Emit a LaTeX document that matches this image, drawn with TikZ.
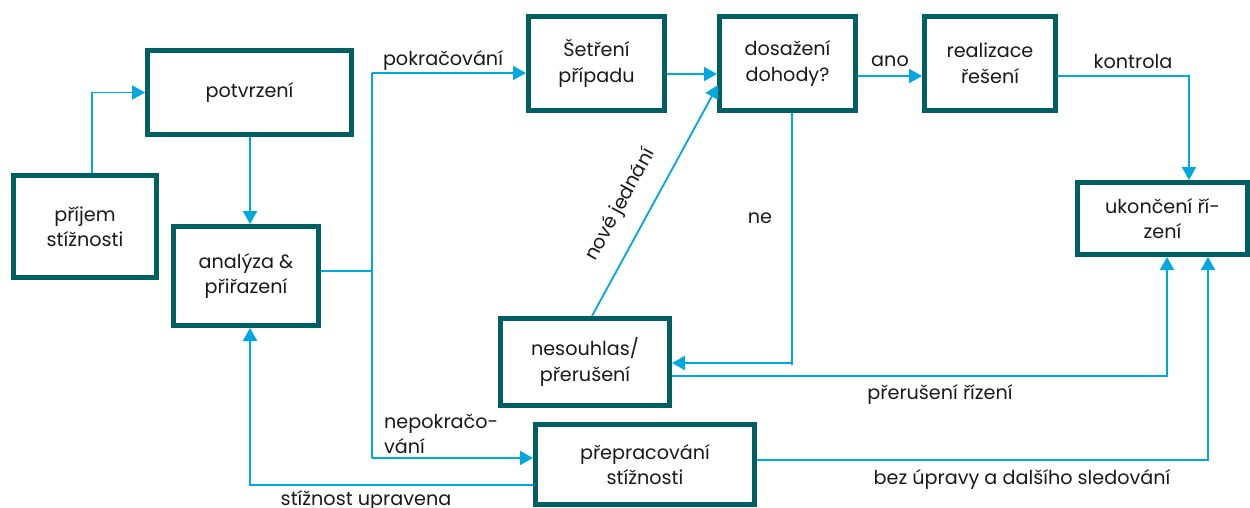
\documentclass[tikz,border=0pt]{standalone}
\usepackage{fontspec}
\setmainfont{Poppins}
\usetikzlibrary{arrows.meta}
\definecolor{boxc}{HTML}{005F63}
\definecolor{linec}{HTML}{00A8E0}
\definecolor{txtc}{HTML}{1A1A1A}
\begin{document}
\begin{tikzpicture}[x=1pt,y=-1pt,
  box/.style={draw=boxc,line width=5pt,inner sep=0pt,align=center,text=txtc,font=\fontsize{19.2}{25.5}\selectfont},
  conn/.style={draw=linec,line width=1.8pt},
  arr/.style={conn,-{Triangle[length=13pt,width=14pt]}},
  lbl/.style={text=txtc,inner sep=0pt,font=\fontsize{19.2}{25}\selectfont}]
\clip (0,0) rectangle (1250,508);
\useasboundingbox (0,0) rectangle (1250,508);
\fill[white] (0,0) rectangle (1250,508);
% boxes
\node[box,minimum width=143pt,minimum height=102pt] (pri) at (85,226.5) {příjem\\stížnosti};
\node[box,minimum width=204pt,minimum height=84pt] (pot) at (249.5,92.5) {potvrzení};
\node[box,minimum width=145pt,minimum height=99pt] (ana) at (246,276) {analýza \&\\přiřazení};
\node[box,minimum width=136pt,minimum height=94pt] (set) at (596.5,63.5) {Šetření\\případu};
\node[box,minimum width=136pt,minimum height=94pt] (dos) at (787.5,63.5) {dosažení\\dohody?};
\node[box,minimum width=131pt,minimum height=94pt] (rea) at (990,63.5) {realizace\\řešení};
\node[box,minimum width=170pt,minimum height=72pt] (uko) at (1162.5,218.5) {ukončení ří-\\zení};
\node[box,minimum width=169pt,minimum height=87pt] (nes) at (585,362) {nesouhlas/\\přerušení};
\node[box,minimum width=219pt,minimum height=80pt] (pre) at (645,464.5) {přepracování\\stížnosti};
% branch coordinates
\coordinate (bt) at (372,73);
\coordinate (bb) at (372,458);
% connectors
\draw[arr] ([xshift=7pt]pri.north) |- (pot.west);
\draw[arr] ([xshift=0.5pt]pot.south) -- ([xshift=0.5pt]pot.south |- ana.north);
\draw[conn] ([yshift=5pt]ana.east) -- (372,271);
\draw[conn] (bt) -- (bb);
\draw[arr] (bt) -- (bt -| set.west);
\draw[arr] (bb) -- (bb -| pre.west);
\draw[arr] ([yshift=-20.5pt]pre.west) -| (ana.south -| 250,0);
\draw[arr] ([yshift=-10.5pt]set.east) -- ([yshift=-10.5pt]dos.west);
\draw[arr] ([xshift=7pt]nes.north) -- (718,85);
\draw[conn] ([xshift=4.5pt]dos.south) -- (792,365);
\draw[arr] (792,363) -- ([yshift=-1pt]nes.east);
\draw[arr] ([yshift=-14pt]nes.east) -| (uko.south -| 1167,0);
\draw[arr] ([yshift=4.5pt]pre.east) -| (uko.south -| 1208,0);
\draw[arr] ([yshift=-12.5pt]rea.east) -| (uko.north -| 1189,0);
\draw[arr] ([yshift=-12.5pt]dos.east) -- ([yshift=-12.5pt]rea.west);
% labels
\node[lbl] (l1) at (443,60) {pokračování};
\node[lbl,align=left,anchor=west] (l2) at (384,434) {nepokračo-\\vání};
\node[lbl] (l3) at (366,500) {stížnost upravena};
\node[lbl] (l4) at (760,218) {ne};
\node[lbl] (l5) at (890,61) {ano};
\node[lbl] (l6) at (1133,61) {kontrola};
\node[lbl] (l7) at (940,394) {přerušení řízení};
\node[lbl] (l8) at (1022,479) {bez úpravy a dalšího sledování};
\node[lbl,rotate=61.4] (l9) at (621,205) {nové jednání};
\end{tikzpicture}
\end{document}
